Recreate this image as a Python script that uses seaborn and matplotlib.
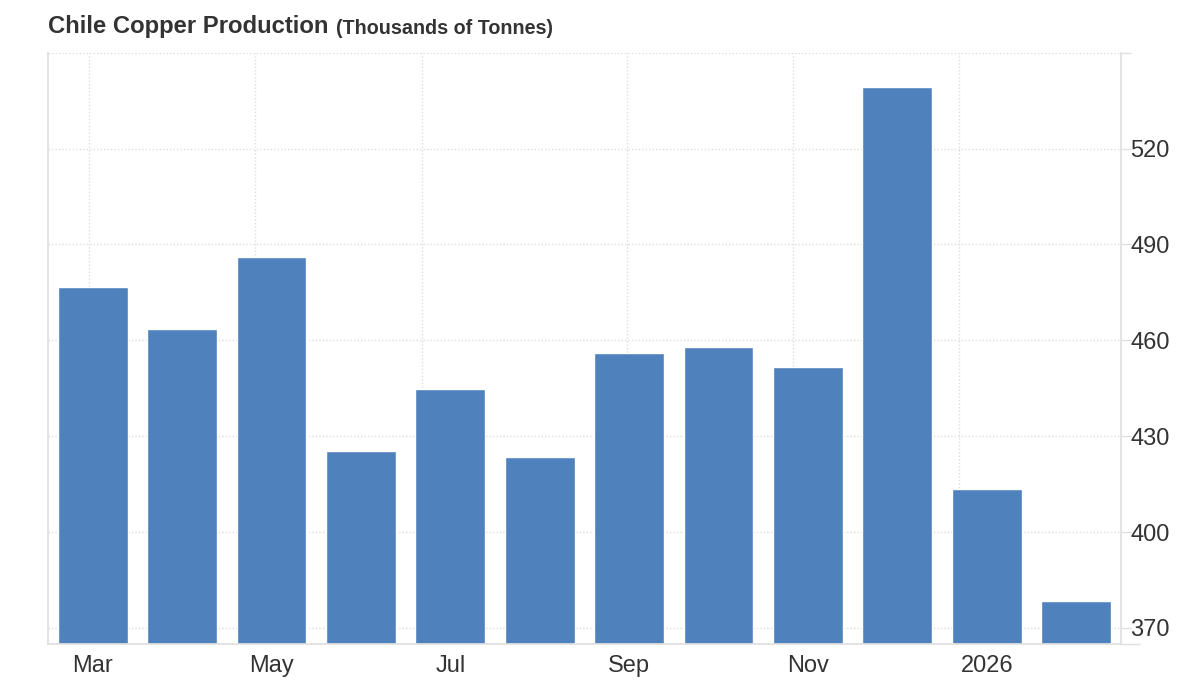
import matplotlib
matplotlib.use('Agg')
import matplotlib.pyplot as plt
import seaborn as sns
import pandas as pd

# Data: Chile copper production, thousands of tonnes (Mar 2025 - Feb 2026)
months = ['Mar', 'Apr', 'May', 'Jun', 'Jul', 'Aug',
          'Sep', 'Oct', 'Nov', 'Dec', 'Jan', 'Feb']
production = [476.7, 463.6, 486.1, 425.3, 444.8, 423.4,
              456.0, 458.0, 451.7, 539.4, 413.4, 378.3]
tick_labels = ['Mar', 'May', 'Jul', 'Sep', 'Nov', '2026']
y_ticks = [370, 400, 430, 460, 490, 520]

df = pd.DataFrame({'month': months, 'production': production})

sns.set_style('white')
plt.rcParams['font.family'] = ['Liberation Sans', 'DejaVu Sans']

fig = plt.figure(figsize=(12, 6.85), dpi=100)
ax = fig.add_axes([0.04, 0.06, 0.894, 0.863])

sns.barplot(data=df, x='month', y='production', color='#4f81bd',
            saturation=1, width=0.78, ax=ax, zorder=2)

ax.set_xlim(-0.5, 11.5)
ax.set_ylim(365, 550)

# y axis on the right
ax.yaxis.tick_right()
ax.set_yticks(y_ticks + [550])
ax.set_yticklabels([str(v) for v in y_ticks] + [''])
ax.set_yticks([365, 550], minor=True)
ax.tick_params(axis='y', which='major', length=7, width=1, color='#e0e0e0',
               labelsize=17, labelcolor='#333333', pad=0)
ax.tick_params(axis='y', which='minor', length=13.5, width=1, color='#e0e0e0')

# x ticks: every other month, grid lines sit slightly off the labels
ax.set_xticks(range(0, 12, 2))
ax.set_xticklabels(tick_labels)
ax.set_xticks([-0.04, 1.815, 3.68, 5.98, 7.83, 9.69], minor=True)
ax.tick_params(axis='x', which='both', length=0, labelsize=17,
               labelcolor='#333333', pad=8)

ax.set_xlabel('')
ax.set_ylabel('')

# dotted grid
ax.grid(axis='y', which='major', color='#dddddd', linestyle=(0, (1, 1.5)), linewidth=1, zorder=0)
ax.grid(axis='x', which='minor', color='#dddddd', linestyle=(0, (1, 1.5)), linewidth=1, zorder=0)
ax.grid(axis='x', which='major', visible=False)
ax.set_axisbelow(True)

for side in ['left', 'right', 'bottom']:
    ax.spines[side].set_color('#e0e0e0')
    ax.spines[side].set_linewidth(1.3)
ax.spines['top'].set_visible(False)

# title + unit, unit placed right after the title text
title = fig.text(0.04, 0.962, 'Chile Copper Production', fontsize=17.2, fontweight='bold',
                 color='#333333', va='center', ha='left')
fig.canvas.draw()
bb = title.get_window_extent().transformed(fig.transFigure.inverted())
fig.text(bb.x1 + 0.006, 0.959, '(Thousands of Tonnes)', fontsize=14.2, fontweight='bold',
         color='#333333', va='center', ha='left')

plt.savefig('out.png', dpi=100)
